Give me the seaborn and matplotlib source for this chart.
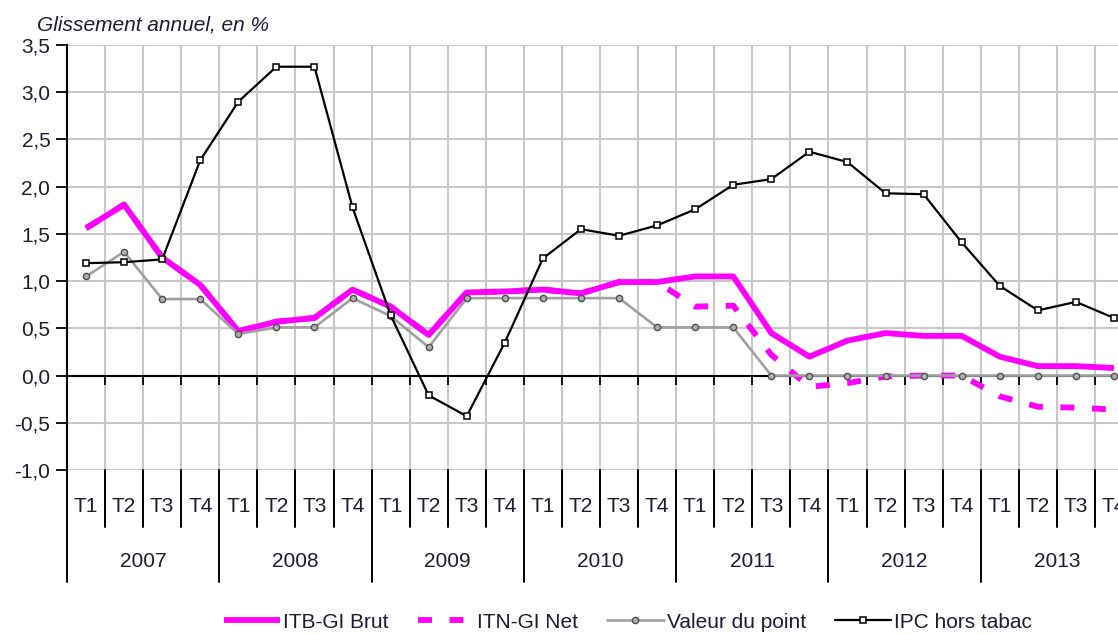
import numpy as np
import pandas as pd
import matplotlib.pyplot as plt
import seaborn as sns
from matplotlib import font_manager

# ------------------------------------------------------------
# DATA (glissement annuel, en %)
# ------------------------------------------------------------
years = ['2007', '2008', '2009', '2010', '2011', '2012', '2013']
quarters = ['T1', 'T2', 'T3', 'T4']

itb_brut = [1.56, 1.81, 1.25, 0.96, 0.47, 0.57, 0.61, 0.91,
            0.73, 0.43, 0.88, 0.89, 0.91, 0.87, 0.99, 0.99,
            1.05, 1.05, 0.45, 0.20, 0.37, 0.45, 0.42, 0.42,
            0.20, 0.10, 0.10, 0.08]
itn_net = [1.56, 1.81, 1.25, 0.96, 0.47, 0.57, 0.61, 0.91,
           0.73, 0.43, 0.88, 0.89, 0.91, 0.87, 0.99, 0.99,
           0.73, 0.74, 0.22, -0.12, -0.08, -0.01, 0.00, 0.00,
           -0.22, -0.33, -0.34, -0.36]
valeur_point = [1.05, 1.31, 0.81, 0.81, 0.44, 0.51, 0.51, 0.82,
                0.63, 0.30, 0.82, 0.82, 0.82, 0.82, 0.82, 0.51,
                0.51, 0.51, 0.00, 0.00, 0.00, 0.00, 0.00, 0.00,
                0.00, 0.00, 0.00, 0.00]
ipc_hors_tabac = [1.19, 1.20, 1.23, 2.28, 2.90, 3.27, 3.27, 1.78,
                  0.64, -0.21, -0.43, 0.35, 1.24, 1.55, 1.48, 1.59,
                  1.76, 2.02, 2.08, 2.37, 2.26, 1.93, 1.92, 1.41,
                  0.95, 0.69, 0.78, 0.61]

n = len(years) * len(quarters)
df = pd.DataFrame({
    'idx': np.arange(n),
    'brut': itb_brut,
    'net': itn_net,
    'valeur': valeur_point,
    'ipc': ipc_hors_tabac,
})

# ------------------------------------------------------------
# STYLE
# ------------------------------------------------------------
sns.set_theme(style="white")
names = {f.name for f in font_manager.fontManager.ttflist}
if 'Liberation Sans Narrow' in names:
    plt.rcParams['font.family'] = ['Liberation Sans Narrow', 'DejaVu Sans']
    fs = 18
else:
    plt.rcParams['font.family'] = ['Liberation Sans', 'DejaVu Sans']
    fs = 15
txt_col = '#1c1c34'

W, H = 1118, 634
fig = plt.figure(figsize=(W / 100, H / 100), dpi=100)
ax = fig.add_axes([67 / W, 164 / H, (1133 - 67) / W, 425 / H])

# ------------------------------------------------------------
# LINES
# ------------------------------------------------------------
sns.lineplot(data=df, x='idx', y='brut', ax=ax, color='#ff00ff', lw=4.2,
             label='ITB-GI Brut', zorder=4, solid_capstyle='butt')
sns.lineplot(data=df, x='idx', y='net', ax=ax, color='#ff00ff', lw=4.2,
             linestyle=(0, (2.4, 3.0)), label='ITN-GI Net', zorder=5)
sns.lineplot(data=df, x='idx', y='valeur', ax=ax, color='#a0a0a0', lw=1.9,
             marker='o', markersize=4.5, markerfacecolor='#b0b0b0',
             markeredgecolor='#505050', markeredgewidth=1,
             label='Valeur du point', zorder=6)
sns.lineplot(data=df, x='idx', y='ipc', ax=ax, color='black', lw=1.6,
             marker='s', markersize=4.5, markerfacecolor='white',
             markeredgecolor='black', markeredgewidth=1.1,
             label='IPC hors tabac', zorder=7)

# ------------------------------------------------------------
# AXES
# ------------------------------------------------------------
bounds = np.arange(n + 1) - 0.5
ax.set_xlim(-0.5, n - 0.5)
ax.set_ylim(-1.0, 3.5)
ax.set_xticks(bounds)
ax.set_xticklabels([])
ax.tick_params(axis='x', length=0)
yt = np.arange(-1.0, 3.51, 0.5)
ax.set_yticks(yt)
ax.set_yticklabels([f'{v:.1f}'.replace('.', ',') for v in yt],
                   fontsize=fs, color=txt_col)
ax.tick_params(axis='y', direction='out', length=8, width=1.3,
               color='black', pad=4, left=True)
ax.grid(True, color='#c8c8c8', lw=1.5, zorder=0)
ax.set_axisbelow(True)
ax.set_xlabel('')
ax.set_ylabel('')
for s in ['top', 'right', 'bottom']:
    ax.spines[s].set_visible(False)
ax.spines['left'].set_color('black')
ax.spines['left'].set_linewidth(1.5)

# zero line with small ticks
ax.axhline(0, color='black', lw=1.5, zorder=3)
ax.vlines(bounds, -0.1, 0, color='black', lw=1.3, zorder=3)

# two-level category axis under the plot
xt = ax.get_xaxis_transform()
for i, b in enumerate(bounds):
    low = -0.264 if i % 4 == 0 else -0.134
    ax.plot([b, b], [0, low], transform=xt, color='black', lw=1.4,
            clip_on=False)
for i in range(n):
    ax.text(i, -0.085, quarters[i % 4], transform=xt, ha='center',
            va='center', fontsize=fs, color=txt_col, clip_on=False)
for j, y in enumerate(years):
    ax.text(j * 4 + 1.5, -0.215, y, transform=xt, ha='center',
            va='center', fontsize=fs, color=txt_col, clip_on=False)

fig.text(37 / W, 1 - 25 / H, 'Glissement annuel, en %', style='italic',
         ha='left', va='center', fontsize=fs, color=txt_col)

# legend
handles, labels = ax.get_legend_handles_labels()
ax.get_legend().remove()
fig.legend(handles, labels, loc='center', bbox_to_anchor=(628 / W, 12 / H),
           ncol=4, frameon=False, fontsize=fs, handlelength=2.7,
           handletextpad=0.15, columnspacing=1.4, labelcolor=txt_col)

plt.savefig('out.png', dpi=100)
plt.close()
